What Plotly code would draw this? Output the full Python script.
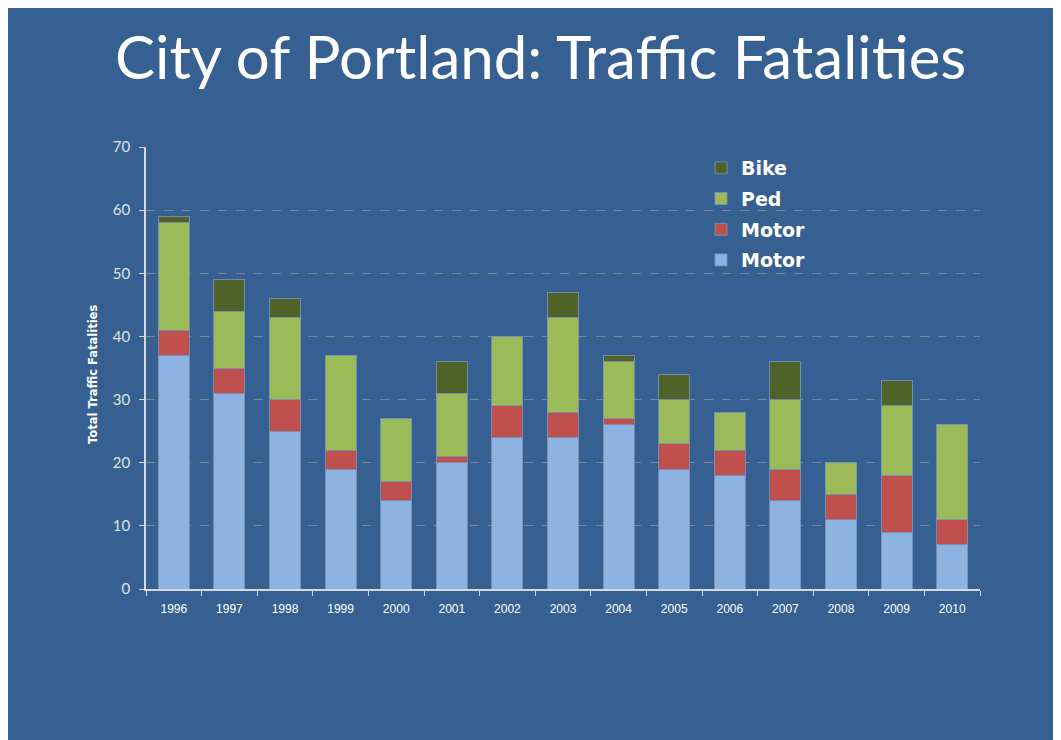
import plotly.graph_objects as go

years = ["1996", "1997", "1998", "1999", "2000", "2001", "2002", "2003",
         "2004", "2005", "2006", "2007", "2008", "2009", "2010"]
motor_vehicle = [37, 31, 25, 19, 14, 20, 24, 24, 26, 19, 18, 14, 11, 9, 7]
motorcycle = [4, 4, 5, 3, 3, 1, 5, 4, 1, 4, 4, 5, 4, 9, 4]
ped = [17, 9, 13, 15, 10, 10, 11, 15, 9, 7, 6, 11, 5, 11, 15]
bike = [1, 5, 3, 0, 0, 5, 0, 4, 1, 4, 0, 6, 0, 4, 0]

series = [
    ("Motor", motor_vehicle, "#8DB3E2"),
    ("Motor ", motorcycle, "#C0504D"),
    ("Ped", ped, "#9BBB59"),
    ("Bike", bike, "#4F6228"),
]

BG = "#366092"
W, H = 1053, 732
L, R, T, B = 138, 81, 139, 151
pw = W - L - R
ph = H - T - B

fig = go.Figure()
n = len(series)
for i, (name, vals, col) in enumerate(series):
    fig.add_trace(go.Bar(
        x=years, y=vals, name=name, legendgroup=f"g{i}",
        legendrank=(n - i) * 10,
        marker=dict(color=col, line=dict(color="rgba(120,145,180,0.9)", width=1)),
    ))

fig.update_layout(
    width=W, height=H, autosize=False,
    margin=dict(l=L, r=R, t=T, b=B),
    paper_bgcolor=BG, plot_bgcolor=BG,
    barmode="stack", bargap=0.44,
    showlegend=True,
    legend=dict(
        x=(693 - L) / pw, y=1 - (141 - T) / ph, xanchor="left", yanchor="top",
        traceorder="grouped", tracegroupgap=3,
        bgcolor="rgba(0,0,0,0)",
        font=dict(family="DejaVu Sans, sans-serif", size=19, color="white", weight="bold"),
        itemwidth=30,
    ),
    xaxis=dict(
        type="category", range=[-0.5, 14.5],
        showline=True, linecolor="#d9d9d9", linewidth=1.5,
        ticks="outside", tickson="boundaries", ticklen=5, tickcolor="#d9d9d9",
        tickfont=dict(family="Liberation Sans, Arial, sans-serif", size=12, color="white"),
        ticklabelstandoff=8,
        showgrid=False,
    ),
    yaxis=dict(
        range=[0, 70], dtick=10,
        showline=True, linecolor="#d9d9d9", linewidth=1.5,
        ticks="outside", ticklen=5, tickcolor="#d9d9d9",
        tickfont=dict(family="Lato, DejaVu Sans, sans-serif", size=15, color="#e0e0e0"),
        ticklabelstandoff=6,
        showgrid=True, gridcolor="#7d8795", griddash="dash", gridwidth=1,
        zeroline=False,
    ),
    annotations=[
        dict(text="City of Portland: Traffic Fatalities", xref="paper", yref="paper",
             x=(532 - L) / pw, y=1 + (T - 48) / ph, xanchor="center", yanchor="middle",
             showarrow=False,
             font=dict(family="Lato, sans-serif", size=60, color="white")),
        dict(text="<b>Total Traffic Fatalities</b>", xref="paper", yref="paper",
             x=-(L - 85) / pw, y=1 - (367 - T) / ph, xanchor="center", yanchor="middle",
             textangle=-90, showarrow=False,
             font=dict(family="DejaVu Sans, sans-serif", size=11.5, color="white")),
    ],
)

fig.write_html("out.html")
